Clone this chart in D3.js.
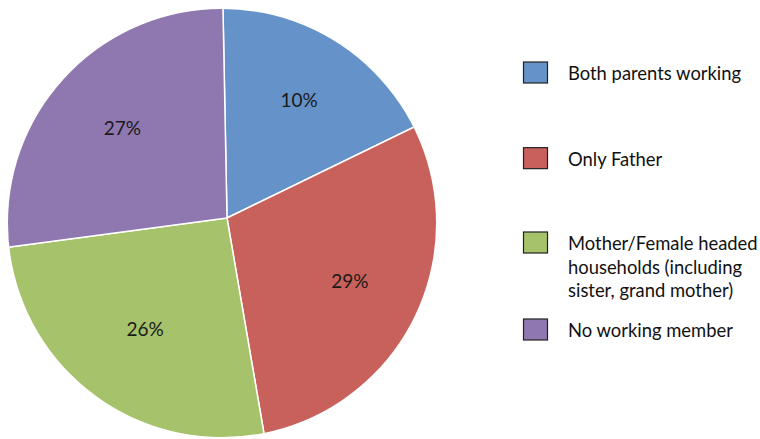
<!DOCTYPE html>
<html><head><meta charset="utf-8">
<script src="https://cdn.jsdelivr.net/npm/d3@7"></script>
<style>
html,body{margin:0;padding:0;background:#fff;}
svg{display:block;font-family:Lato,"Open Sans",sans-serif;}
</style></head>
<body>
<svg id="chart" width="760" height="439"></svg>
<script>
const categories = ["Both parents working", "Only Father", "Mother/Female headed households (including sister, grand mother)", "No working member"];
const legendLines = [["Both parents working"], ["Only Father"], ["Mother/Female headed", "households (including", "sister, grand mother)"], ["No working member"]];
const values = [18.1, 29.5, 25.6, 26.8];
const valueLabels = ["10%", "29%", "26%", "27%"];
const colors = ["#6592c8", "#c8615b", "#a6c26a", "#8f77b0"];

const svg = d3.select("#chart");
const cx = 227, cy = 218;
const clipCx = 222, clipCy = 223, clipR = 214;

svg.append("defs").append("clipPath").attr("id", "pieclip")
  .append("circle").attr("cx", clipCx - cx).attr("cy", clipCy - cy).attr("r", clipR);

const pie = d3.pie().sort(null).value(d => d)
  .startAngle(-1.1 * Math.PI / 180).endAngle(2 * Math.PI - 1.1 * Math.PI / 180);
const arcs = pie(values);
const arc = d3.arc().innerRadius(0).outerRadius(240);
const labelArc = d3.arc().innerRadius(138).outerRadius(138);

const g = svg.append("g").attr("transform", `translate(${cx},${cy})`);
const pg = g.append("g").attr("clip-path", "url(#pieclip)");
pg.selectAll("path").data(arcs).enter().append("path")
  .attr("d", arc)
  .attr("fill", (d, i) => colors[i])
  .attr("stroke", "#fff").attr("stroke-width", 1.5).attr("stroke-linejoin", "round");

g.selectAll("text.lbl").data(arcs).enter().append("text")
  .attr("class", "lbl")
  .attr("transform", d => `translate(${labelArc.centroid(d)})`)
  .attr("text-anchor", "middle").attr("dy", "0.35em")
  .attr("font-size", 19).attr("fill", "#1a1a1a")
  .text((d, i) => valueLabels[i]);

const legendY = d3.scalePoint().domain(d3.range(categories.length)).range([73, 330]);
const lg = svg.append("g");
categories.forEach((c, i) => {
  const y = legendY(i);
  const boxY = i === 2 ? 243 : y;
  lg.append("rect").attr("x", 523.5).attr("y", boxY - 11).attr("width", 24).attr("height", 21)
    .attr("fill", colors[i]).attr("stroke", "#222").attr("stroke-width", 1.2);
  const t = lg.append("text").attr("x", 568).attr("font-size", 18.4).attr("fill", "#111");
  legendLines[i].forEach((ln, j) => {
    t.append("tspan").attr("x", 568).attr("y", (i === 2 ? 243 : y) + 7 + j * 23.5).text(ln);
  });
});
</script>
</body></html>
